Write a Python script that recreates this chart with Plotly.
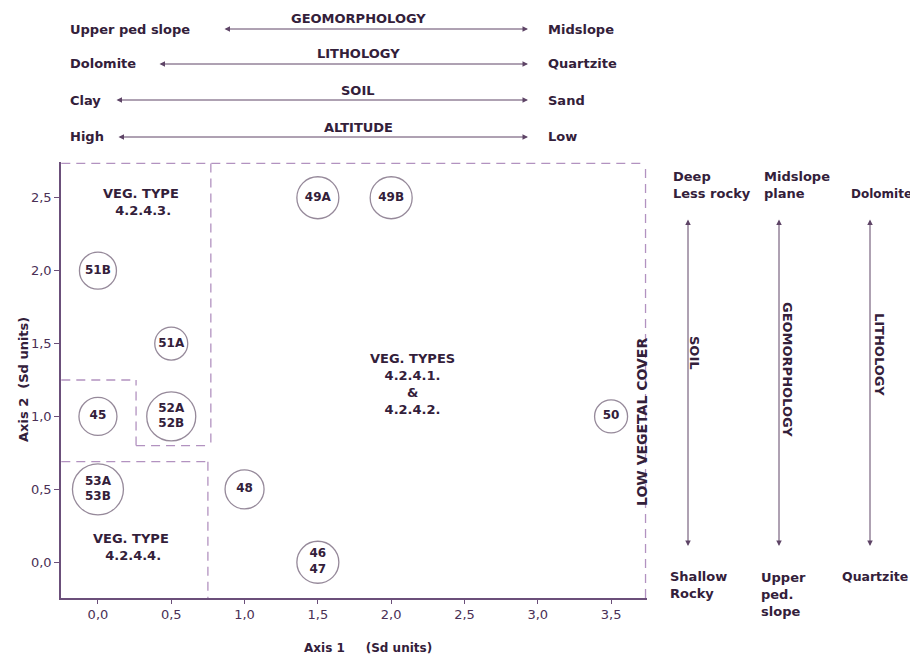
import plotly.graph_objects as go

# ---------------- data ----------------
site_labels = ["51B", "51A", "45", "52A<br>52B", "53A<br>53B", "48", "46<br>47", "49A", "49B", "50"]
axis1_values = [0.0, 0.5, 0.0, 0.5, 0.0, 1.0, 1.5, 1.5, 2.0, 3.5]
axis2_values = [2.0, 1.5, 1.0, 1.0, 0.5, 0.5, 0.0, 2.5, 2.5, 1.0]
x_ticks = [0.0, 0.5, 1.0, 1.5, 2.0, 2.5, 3.0, 3.5]
y_ticks = [0.0, 0.5, 1.0, 1.5, 2.0, 2.5]

# ---------------- style ----------------
circle_px = [37, 33, 38, 49, 51, 39, 42, 42, 42, 33]
FONT = "DejaVu Sans"
TXT = "#33203a"
AXC = "#6b4f7a"
DASHC = "#b292c0"
ARC = "#5e4466"

OFF = 8  # page body margin
W, H = 918 - OFF, 656 - OFF
# plot-area edges in window pixels
L, R, T, B = 61, 647, 162, 598


def PX(px):
    return (px - L) / (R - L)


def PY(py):
    return (B - py) / (B - T)


fig = go.Figure()
fig.add_trace(go.Scatter(
    x=axis1_values, y=axis2_values, mode="markers+text",
    text=site_labels, textposition="middle center",
    textfont=dict(family=FONT, size=12, color=TXT, weight="bold"),
    marker=dict(size=circle_px, color="white", line=dict(color="#6a5870", width=1.3)),
    cliponaxis=False, showlegend=False, hoverinfo="skip"))

# dashed region boundaries (data coordinates)
dash_lines = [
    (-0.25, 2.735, 3.735, 2.735),
    (3.735, -0.245, 3.735, 2.735),
    (0.77, 2.735, 0.77, 0.80),
    (0.26, 0.80, 0.77, 0.80),
    (0.26, 0.80, 0.26, 1.25),
    (-0.25, 1.25, 0.26, 1.25),
    (-0.25, 0.69, 0.75, 0.69),
    (0.75, 0.69, 0.75, -0.245),
]
for x0, y0, x1, y1 in dash_lines:
    fig.add_shape(type="line", x0=x0, y0=y0, x1=x1, y1=y1, xref="x", yref="y",
                  line=dict(color=DASHC, width=1.3, dash="9px,6px"))

ann = []


def text(px, py, s, size=13, anchor="left", bold=True, angle=0, yanchor="middle"):
    ann.append(dict(x=PX(px), y=PY(py), xref="paper", yref="paper", text=s,
                    showarrow=False, xanchor=anchor, yanchor=yanchor, textangle=angle,
                    align=anchor,
                    font=dict(family=FONT, size=size, color=TXT,
                              weight="bold" if bold else "normal")))


def arrow(x0, y0, x1, y1):
    ann.append(dict(x=PX(x1), y=PY(y1), xref="paper", yref="paper",
                    ax=x0 - x1, ay=y0 - y1, axref="pixel", ayref="pixel",
                    text="", showarrow=True, arrowhead=2, arrowside="end+start",
                    arrowsize=1.1, arrowwidth=1, arrowcolor=ARC))


# top gradient arrows
top_rows = [("Upper ped slope", "GEOMORPHOLOGY", "Midslope", 29, 223),
            ("Dolomite", "LITHOLOGY", "Quartzite", 64, 158),
            ("Clay", "SOIL", "Sand", 100, 115),
            ("High", "ALTITUDE", "Low", 137, 117)]
for left, mid, right, yy, xl in top_rows:
    text(68, yy, left, size=13)
    text(358, yy - 10, mid, size=13, anchor="center")
    text(546, yy, right, size=13)
    arrow(xl, yy, 528, yy)

# right vertical arrows
for xx in (688, 779, 870):
    arrow(xx, 218, xx, 546)
text(695, 353, "SOIL", size=13, anchor="center", angle=90)
text(788, 369, "GEOMORPHOLOGY", size=13, anchor="center", angle=90)
text(880, 354, "LITHOLOGY", size=13, anchor="center", angle=90)

text(671, 185, "Deep<br>Less rocky", size=13)
text(762, 185, "Midslope<br>plane", size=13)
text(849, 194, "Dolomite", size=12)
text(668, 585, "Shallow<br>Rocky", size=13)
text(759, 594, "Upper<br>ped.<br>slope", size=13)
text(840, 576, "Quartzite", size=12.5)

# labels inside plot
text(141, 202, "VEG. TYPE<br>\u00a04.2.4.3.", size=13, anchor="center")
text(131, 547, "VEG. TYPE<br>\u00a04.2.4.4.", size=13, anchor="center")
text(412, 384, "VEG. TYPES<br>4.2.4.1.<br>&<br>4.2.4.2.", size=13, anchor="center")
text(642, 422, "LOW VEGETAL COVER", size=14, anchor="center", angle=-90)

# axis titles
text(368, 648, "Axis 1\u00a0\u00a0\u00a0\u00a0\u00a0(Sd units)", size=12, anchor="center")
text(23, 380, "Axis 2\u00a0\u00a0(Sd\u00a0units)", size=13, anchor="center", angle=-90)

fig.update_layout(
    width=W, height=H, paper_bgcolor="white", plot_bgcolor="white",
    margin=dict(l=L - OFF, r=W - (R - OFF), t=T - OFF, b=H - (B - OFF), pad=0),
    separators=", ",
    annotations=ann, showlegend=False,
    xaxis=dict(range=[-0.252, 3.745], tickvals=x_ticks, tickformat=".1f",
               showgrid=False, zeroline=False, showline=True, linecolor=AXC, linewidth=1.5,
               ticks="outside", ticklen=4, tickcolor=AXC,
               tickfont=dict(family=FONT, size=13, color="#4a3055")),
    yaxis=dict(range=[-0.245, 2.745], tickvals=y_ticks, tickformat=".1f",
               showgrid=False, zeroline=False, showline=True, linecolor=AXC, linewidth=1.5,
               ticks="outside", ticklen=5, tickcolor=AXC,
               tickfont=dict(family=FONT, size=13, color="#4a3055")),
)

fig.write_html("out.html")
